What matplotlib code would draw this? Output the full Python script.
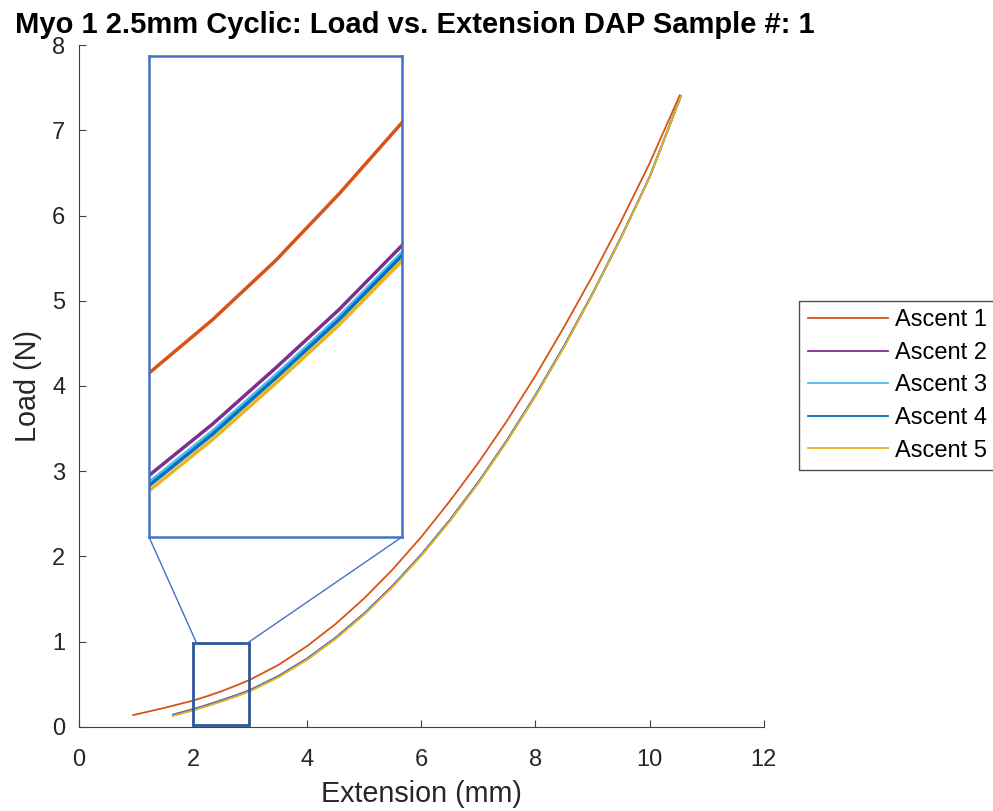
import matplotlib
matplotlib.use("Agg")
import matplotlib.pyplot as plt
from matplotlib.patches import Rectangle, ConnectionPatch

plt.rcParams['font.family'] = ['Liberation Sans', 'DejaVu Sans']

# data
ext_1 = [0.95, 1.5, 2, 2.25, 2.5, 2.75, 3, 3.5, 4, 4.5, 5, 5.5, 6, 6.5, 7, 7.5, 8, 8.5, 9, 9.5, 10, 10.53]
load_1 = [0.14, 0.225, 0.31, 0.362, 0.42, 0.485, 0.555, 0.73, 0.95, 1.21, 1.51, 1.85, 2.23, 2.65, 3.10, 3.59, 4.12, 4.69, 5.29, 5.93, 6.61, 7.41]

ext_b = [1.65, 2, 2.25, 2.5, 2.75, 3, 3.5, 4, 4.5, 5, 5.5, 6, 6.5, 7, 7.5, 8, 8.5, 9, 9.5, 10, 10.55]
load_2 = [0.145, 0.21, 0.26, 0.315, 0.372, 0.435, 0.60, 0.805, 1.05, 1.335, 1.66, 2.025, 2.43, 2.875, 3.365, 3.895, 4.47, 5.085, 5.745, 6.45, 7.40]
load_3 = [0.138, 0.203, 0.253, 0.308, 0.365, 0.428, 0.593, 0.797, 1.042, 1.327, 1.652, 2.017, 2.422, 2.867, 3.357, 3.887, 4.462, 5.08, 5.74, 6.448, 7.40]
load_4 = [0.135, 0.200, 0.250, 0.305, 0.362, 0.425, 0.59, 0.794, 1.039, 1.324, 1.649, 2.014, 2.419, 2.864, 3.354, 3.884, 4.459, 5.078, 5.738, 6.447, 7.40]
load_5 = [0.13, 0.195, 0.245, 0.30, 0.357, 0.42, 0.585, 0.79, 1.035, 1.32, 1.645, 2.01, 2.415, 2.86, 3.35, 3.88, 4.455, 5.075, 5.735, 6.445, 7.40]

labels = ['Ascent 1', 'Ascent 2', 'Ascent 3', 'Ascent 4', 'Ascent 5']
colors = ['#D95319', '#7E2F8E', '#4DBEEE', '#0072BD', '#EDB120']
xticks = [0, 2, 4, 6, 8, 10, 12]
yticks = [0, 1, 2, 3, 4, 5, 6, 7, 8]

series = [(ext_1, load_1), (ext_b, load_2), (ext_b, load_3), (ext_b, load_4), (ext_b, load_5)]

fig = plt.figure(figsize=(9.93, 8.11), dpi=100)
ax = fig.add_axes([0.0796, 0.1036, 0.6894, 0.8409])

lines = []
for (x, y), lab, c in zip(series, labels, colors):
    l, = ax.plot(x, y, color=c, lw=1.3, label=lab)
    lines.append(l)

ax.set_xlim(0, 12)
ax.set_ylim(0, 8)
ax.set_xticks(xticks)
ax.set_yticks(yticks)
for s in ['top', 'right']:
    ax.spines[s].set_visible(False)
for s in ['left', 'bottom']:
    ax.spines[s].set_color('#404040')
ax.tick_params(direction='in', length=5, color='#404040', labelcolor='#262626', labelsize=17)
ax.tick_params(axis='x', pad=16)
ax.tick_params(axis='y', pad=10)
ax.set_xlabel('Extension (mm)', fontsize=20.7, color='#262626', labelpad=6)
ax.set_ylabel('Load (N)', fontsize=20.7, color='#262626', labelpad=7)

fig.text(0.015, 0.986, 'Myo 1 2.5mm Cyclic: Load vs. Extension DAP Sample #: 1',
         fontsize=21, fontweight='bold', va='top', ha='left')

# zoom box on the main axes
ax.add_patch(Rectangle((2, 0.02), 0.98, 0.965, fill=False, ec='#2F5597', lw=2, zorder=5))

# inset
ins = fig.add_axes([0.150, 0.338, 0.255, 0.593])
for (x, y), c in zip(series, colors):
    ins.plot(x, y, color=c, lw=2.5)
ins.set_xlim(2, 3)
ins.set_ylim(0.15, 0.62)
ins.set_xticks([])
ins.set_yticks([])
for s in ins.spines.values():
    s.set_color('#4472C4')
    s.set_linewidth(1.8)

for xa, xb in [(0, 2.07), (1, 2.92)]:
    con = ConnectionPatch(xyA=(xa, 0), coordsA=ins.transAxes,
                          xyB=(xb, 0.97), coordsB=ax.transData,
                          color='#4472C4', lw=1)
    fig.add_artist(con)

leg = fig.legend(handles=lines, loc='upper left', bbox_to_anchor=(0.805, 0.629),
                 fontsize=17, frameon=True, fancybox=False, edgecolor='#262626',
                 handlelength=3.4, handletextpad=0.3, labelspacing=0.45,
                 borderpad=0.35, borderaxespad=0)
leg.get_frame().set_linewidth(1)

fig.savefig('out.png', dpi=100)
